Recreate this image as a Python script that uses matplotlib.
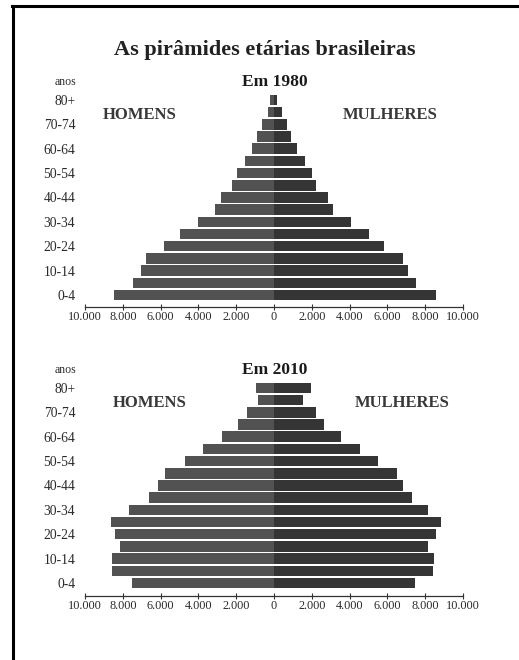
import matplotlib
matplotlib.use("Agg")
import matplotlib.pyplot as plt
from matplotlib.lines import Line2D

plt.rcParams['font.family'] = ['Liberation Serif', 'DejaVu Serif']

age_groups = ["0-4", "5-9", "10-14", "15-19", "20-24", "25-29", "30-34", "35-39",
              "40-44", "45-49", "50-54", "55-59", "60-64", "65-69", "70-74", "75-79", "80+"]

# values in thousands
men_1980 = [8480, 7450, 7030, 6780, 5830, 4980, 4030, 3100, 2830, 2230, 1950, 1560, 1170, 890, 650, 330, 220]
women_1980 = [8560, 7500, 7090, 6850, 5820, 5030, 4060, 3140, 2860, 2210, 2030, 1620, 1240, 920, 670, 420, 180]
men_2010 = [7490, 8590, 8590, 8160, 8430, 8640, 7670, 6610, 6130, 5780, 4720, 3750, 2770, 1900, 1410, 850, 970]
women_2010 = [7440, 8430, 8470, 8150, 8590, 8820, 8150, 7320, 6850, 6490, 5500, 4530, 3530, 2650, 2210, 1560, 1940]

xticks = [-10000, -8000, -6000, -4000, -2000, 0, 2000, 4000, 6000, 8000, 10000]
xtick_labels = ["10.000", "8.000", "6.000", "4.000", "2.000", "0", "2.000", "4.000", "6.000", "8.000", "10.000"]

title = "As pirâmides etárias brasileiras"
panel_titles = ["Em 1980", "Em 2010"]

W, H = 519, 660
fig = plt.figure(figsize=(W / 100, H / 100), dpi=100)
fig.patch.set_facecolor("white")

MEN_COLOR = "#525252"
WOMEN_COLOR = "#353535"
TEXT_COLOR = "#2a2a2a"


def fx(px):
    return px / W


def fy(py):
    return 1 - py / H


def draw_panel(men, women, axis_py, row0_py, row_step, ptitle, hom_xy, mul_xy):
    top_py = row0_py - 16.6 * row_step
    ax = fig.add_axes([fx(85), fy(axis_py), fx(463) - fx(85), (axis_py - top_py) / H])
    ylow = -(axis_py - row0_py) / row_step
    ax.set_ylim(ylow, 16.6)
    ax.set_xlim(-10000, 10000)
    y = list(range(len(age_groups)))
    ax.barh(y, [-m for m in men], height=0.86, color=MEN_COLOR, edgecolor="none")
    ax.barh(y, women, height=0.86, color=WOMEN_COLOR, edgecolor="none")
    for s in ["top", "right", "left"]:
        ax.spines[s].set_visible(False)
    ax.spines["bottom"].set_color("#333333")
    ax.spines["bottom"].set_linewidth(0.9)
    ax.set_xticks(xticks)
    ax.set_xticklabels(xtick_labels, fontsize=8.8, color=TEXT_COLOR)
    ax.tick_params(axis="x", direction="inout", length=4, width=0.8, pad=1.0, color="#333333")
    ax.set_yticks(y[::2])
    ax.set_yticklabels(age_groups[::2], fontsize=9.8, color=TEXT_COLOR)
    ax.tick_params(axis="y", length=0, pad=7)
    ax.patch.set_alpha(0)
    # annotations
    fig.text(fx(65), fy(row0_py - 17.45 * row_step), "anos", fontsize=8.5, color=TEXT_COLOR,
             ha="center", va="center")
    fig.text(fx(275), fy(row0_py - 17.45 * row_step), ptitle, fontsize=12.5, fontweight="bold",
             color="#1a1a1a", ha="center", va="center")
    fig.text(fx(hom_xy[0]), fy(hom_xy[1]), "HOMENS", fontsize=12, fontweight="bold",
             color="#383838", ha="center", va="center")
    fig.text(fx(mul_xy[0]), fy(mul_xy[1]), "MULHERES", fontsize=12, fontweight="bold",
             color="#383838", ha="center", va="center")
    return ax


draw_panel(men_1980, women_1980, 306.7, 295.0, 12.19, panel_titles[0], (140, 115), (390, 115))
draw_panel(men_2010, women_2010, 596.0, 583.0, 12.19, panel_titles[1], (150, 403), (402, 403))

fig.text(fx(265), fy(50), title, fontsize=16, fontweight="bold", color="#222222",
         ha="center", va="center")

# frame (left and top edges visible)
fig.add_artist(Line2D([fx(13), fx(13)], [fy(6), fy(H + 10)], color="black", linewidth=2.2,
                      transform=fig.transFigure))
fig.add_artist(Line2D([fx(12), fx(W + 10)], [fy(6), fy(6)], color="black", linewidth=2.2,
                      transform=fig.transFigure))

fig.savefig("out.png", dpi=100)
